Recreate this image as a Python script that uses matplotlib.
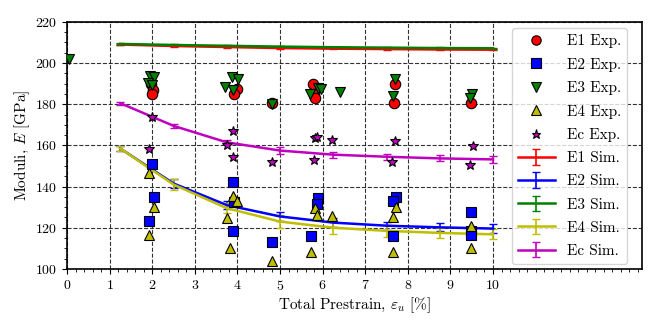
import matplotlib
matplotlib.use("Agg")
import matplotlib.pyplot as plt
from matplotlib.ticker import MultipleLocator

plt.rcParams['font.family'] = 'serif'
plt.rcParams['font.serif'] = ['cmr10']
plt.rcParams['mathtext.fontset'] = 'cm'
plt.rcParams['axes.formatter.use_mathtext'] = True

# Experimental data
e1_x = [1.98, 2.02, 2.0, 3.98, 3.92, 4.8, 5.78, 5.8, 5.82, 7.7, 7.68, 9.48]
e1_y = [190.0, 187.0, 185.0, 187.5, 185.0, 180.5, 190.0, 185.0, 183.0, 190.0, 180.5, 180.5]

e2_x = [1.99, 2.04, 1.93, 3.89, 3.92, 3.9, 4.81, 5.9, 5.86, 5.72, 7.72, 7.65, 7.65, 9.49, 9.49, 9.49]
e2_y = [151.0, 135.0, 123.5, 142.0, 132.5, 118.5, 113.0, 134.5, 131.5, 116.0, 135.0, 133.0, 116.0, 127.5, 118.5, 116.5]

e3_x = [0.05, 1.95, 2.05, 1.9, 2.0, 3.87, 4.02, 3.71, 3.9, 4.8, 5.9, 5.7, 5.96, 6.4, 7.7, 7.65, 9.5, 9.45]
e3_y = [202.0, 193.5, 193.0, 190.5, 189.5, 193.0, 192.5, 188.5, 187.0, 180.0, 188.0, 185.0, 187.5, 186.0, 192.5, 184.0, 185.0, 183.0]

e4_x = [1.93, 2.04, 1.93, 3.9, 4.0, 3.75, 3.82, 4.81, 5.82, 5.86, 6.21, 5.72, 7.72, 7.65, 7.65, 9.49, 9.49]
e4_y = [146.5, 130.0, 116.5, 135.5, 133.0, 124.5, 110.0, 104.0, 129.5, 126.0, 125.5, 108.0, 130.0, 125.0, 108.0, 121.0, 110.0]

ec_x = [2.0, 1.93, 3.9, 3.75, 3.9, 4.81, 5.82, 5.86, 6.21, 5.8, 7.7, 7.63, 9.53, 9.47]
ec_y = [174.0, 158.5, 167.0, 160.0, 154.5, 152.0, 163.5, 164.0, 162.5, 153.0, 162.0, 152.0, 159.5, 150.5]

# Simulation data
sim_x = [1.25, 2.5, 3.75, 5.0, 6.25, 7.5, 8.75, 10.0]
e1_sim = [209.0, 208.3, 207.8, 207.3, 207.0, 206.8, 206.6, 206.5]
e2_sim = [158.5, 141.5, 131.0, 125.5, 122.5, 121.0, 120.2, 119.6]
e3_sim = [209.3, 208.8, 208.4, 208.0, 207.7, 207.5, 207.3, 207.2]
e4_sim = [158.5, 141.0, 129.5, 123.0, 120.0, 118.5, 117.5, 116.8]
ec_sim = [180.5, 169.5, 161.5, 157.5, 155.5, 154.5, 153.7, 153.2]
e1_err = [0.3, 0.3, 0.3, 0.3, 0.3, 0.3, 0.3, 0.3]
e2_err = [1.0, 2.0, 2.0, 2.0, 2.0, 2.0, 2.0, 2.0]
e3_err = [0.3, 0.3, 0.3, 0.3, 0.3, 0.3, 0.3, 0.3]
e4_err = [1.0, 2.5, 2.5, 3.0, 3.0, 3.0, 2.5, 2.5]
ec_err = [0.8, 1.0, 1.0, 1.5, 1.5, 1.5, 1.5, 1.5]

fig = plt.figure(figsize=(6.64, 3.32), dpi=100)
ax = fig.add_axes([0.101, 0.19, 0.866, 0.744])

ms = 7.5
ax.plot(e1_x, e1_y, 'o', color='r', mec='k', mew=0.8, ms=ms, label='E1 Exp.', zorder=4)
ax.plot(e2_x, e2_y, 's', color='b', mec='k', mew=0.8, ms=ms, label='E2 Exp.', zorder=4)
ax.plot(e3_x, e3_y, 'v', color='g', mec='k', mew=0.8, ms=ms, label='E3 Exp.', zorder=4)
ax.plot(e4_x, e4_y, '^', color='y', mec='k', mew=0.8, ms=ms, label='E4 Exp.', zorder=4)
ax.plot(ec_x, ec_y, '*', color='m', mec='k', mew=0.8, ms=ms, label='Ec Exp.', zorder=4)

for ys, es, c, lab in [(e1_sim, e1_err, 'r', 'E1 Sim.'), (e2_sim, e2_err, 'b', 'E2 Sim.'),
                       (e3_sim, e3_err, 'g', 'E3 Sim.'), (e4_sim, e4_err, 'y', 'E4 Sim.'),
                       (ec_sim, ec_err, 'm', 'Ec Sim.')]:
    ax.errorbar(sim_x, ys, yerr=es, color=c, lw=1.8, capsize=3, elinewidth=1.2,
                label=lab, zorder=3)

ax.set_xlim(0, 13.5)
ax.set_ylim(100, 220)
ax.xaxis.set_major_locator(MultipleLocator(1))
ax.xaxis.set_minor_locator(MultipleLocator(0.2))
ax.yaxis.set_major_locator(MultipleLocator(20))
ax.yaxis.set_minor_locator(MultipleLocator(5))
ax.set_xticks(range(0, 11))
ax.tick_params(which='both', labelsize=10)
ax.grid(True, which='major', color='k', linestyle='--', linewidth=0.8, alpha=0.8)
for s in ax.spines.values():
    s.set_linewidth(1.2)

ax.set_xlabel(r'Total Prestrain, $\varepsilon_u$ [%]', fontsize=11, labelpad=2)
ax.set_ylabel(r'Moduli, $E$ [GPa]', fontsize=11, labelpad=2)

ax.legend(loc='upper right', fontsize=11, labelspacing=0.62, handlelength=2.4,
          borderaxespad=0.4, markerscale=0.9, bbox_to_anchor=(0.985, 1.0))

fig.savefig('out.png', dpi=100)
